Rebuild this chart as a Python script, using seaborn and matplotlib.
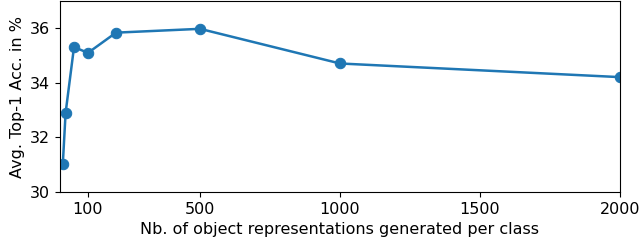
import matplotlib
matplotlib.use("Agg")
import matplotlib.pyplot as plt
import seaborn as sns
import pandas as pd

n_generated = [10, 20, 50, 100, 200, 500, 1000, 2000]
accuracy = [31.02, 32.9, 35.31, 35.10, 35.84, 35.98, 34.71, 34.21]
xticks = [100, 500, 1000, 1500, 2000]
yticks = [30, 32, 34, 36]

df = pd.DataFrame({"n": n_generated, "acc": accuracy})

fig = plt.figure(figsize=(6.4, 2.43), dpi=100)
ax = fig.add_axes([60/640, 1 - 192/243, 560/640, 191/243])
sns.lineplot(data=df, x="n", y="acc", ax=ax, marker="o", markersize=7.5,
             linewidth=1.8, color="#1f77b4", markeredgecolor="#1f77b4")
ax.set_xlim(0, 2000)
ax.set_ylim(30, 37)
ax.set_xticks(xticks)
ax.set_yticks(yticks)
ax.tick_params(labelsize=11.5)
ax.set_xlabel("Nb. of object representations generated per class", fontsize=11.5)
ax.set_ylabel("Avg. Top-1 Acc. in %", fontsize=11.5)
fig.savefig("out.png", dpi=100)
